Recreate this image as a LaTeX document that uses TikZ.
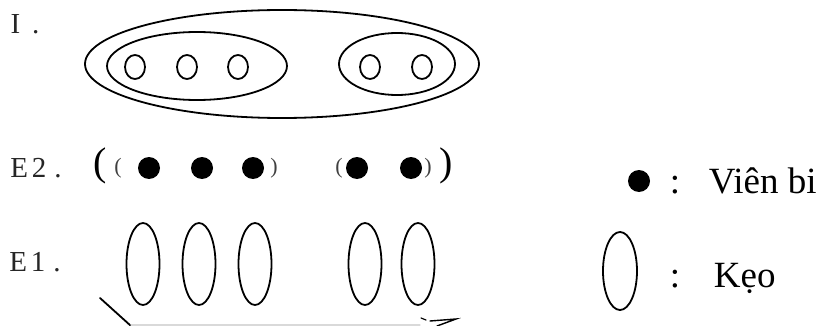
\documentclass[tikz,border=0pt]{standalone}
\usepackage{fontspec}
\setmainfont{Liberation Serif}
\usetikzlibrary{shapes.geometric}

\begin{document}
\begin{tikzpicture}[x=0.5pt,y=-0.5pt,line width=0.9pt,line cap=round,
  rowlbl/.style={font=\fontsize{14.5}{16}\selectfont,inner sep=0pt,text=black!85},
  legtxt/.style={font=\fontsize{18.5}{22}\selectfont,inner sep=0pt,anchor=base west},
  bead/.style={ellipse,draw,inner sep=0pt,minimum width=10pt,minimum height=12pt},
  marble/.style={circle,fill,inner sep=0pt,minimum size=11pt},
  candy/.style={ellipse,draw,inner sep=0pt,minimum width=16.5pt,minimum height=41pt},
  bigpar/.style={font=\fontsize{20}{22}\selectfont,inner sep=0pt},
  smallpar/.style={font=\fontsize{11}{12}\selectfont,inner sep=0pt,text=black!75}]
\useasboundingbox (0,0) rectangle (819,326);
\node[rowlbl] (rowI) at (25,24) {I\hspace{6pt}.};
\node[rowlbl] (rowEb) at (36,168) {E\hspace{2pt}2\hspace{4pt}.};
\node[rowlbl] (rowEa) at (35,262) {E\hspace{2pt}1\hspace{4pt}.};
\draw (282,64) ellipse [x radius=197,y radius=54];
\draw (197,66) ellipse [x radius=90,y radius=34];
\draw (397,64) ellipse [x radius=58,y radius=31];
\foreach \x [count=\i] in {135,187,238,370,422}
  \node[bead] (b\i) at (\x,67) {};
\foreach \x [count=\i] in {149,202,253,357,411}
  \node[marble] (m\i) at (\x,168) {};
\node[bigpar] (pa) at (100,166) {(};
\node[smallpar] (pb) at (118,168) {(};
\node[smallpar] (pc) at (274,168) {)};
\node[smallpar] (pd) at (339,168) {(};
\node[smallpar] (pe) at (428,168) {)};
\node[bigpar] (pf) at (446,166) {)};
\foreach \x [count=\i] in {143,199,255,365,418}
  \node[candy] (c\i) at (\x,264) {};
\draw (100,298) -- (131,326);
\draw[black!15,line width=0.6pt] (131,325) -- (420,325);
\draw[line width=0.6pt] (421,318) -- (426,320);
\draw[line width=0.7pt] (430,321) -- (456,319) -- (437,326);
\node[marble] (lgm) at (639,181) {};
\node[legtxt] (lgc1) at (669,193) {:};
\node[legtxt] (lgt1) at (708,193) {Viên bi};
\node[candy,minimum width=17pt,minimum height=39pt] (lgc) at (620,271) {};
\node[legtxt] (lgc2) at (669,287) {:};
\node[legtxt] (lgt2) at (713,287) {Kẹo};
\end{tikzpicture}
\end{document}
